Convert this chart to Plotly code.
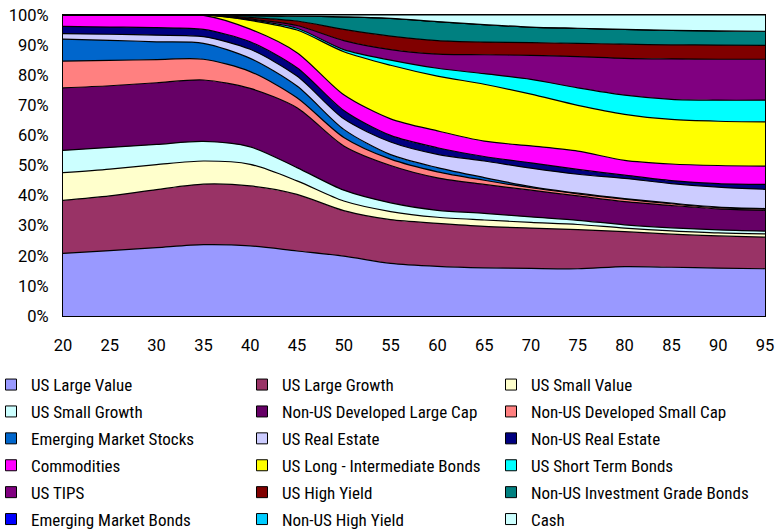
import plotly.graph_objects as go

ages = [20, 25, 30, 35, 40, 45, 50, 55, 60, 65, 70, 75, 80, 85, 90, 95]

us_large_value = [20.8, 21.7, 22.7, 23.7, 23.3, 21.6, 19.9, 17.5, 16.5, 16.0, 15.8, 15.7, 16.4, 16.2, 15.9, 15.7]
us_large_growth = [17.6, 18.2, 19.3, 20.1, 19.9, 18.8, 15.1, 14.5, 14.3, 13.8, 13.4, 13.0, 11.6, 11.0, 10.7, 10.5]
us_small_value = [9.2, 8.9, 8.3, 7.7, 7.2, 4.5, 3.2, 2.7, 2.0, 2.1, 1.9, 1.7, 1.2, 1.1, 1.0, 1.1]
us_small_growth = [7.4, 7.2, 6.7, 6.5, 5.8, 4.4, 3.6, 2.9, 2.3, 2.2, 1.8, 1.4, 1.1, 1.0, 1.0, 0.9]
nonus_dev_large = [20.8, 20.5, 20.5, 20.4, 19.4, 19.9, 14.7, 12.4, 10.8, 9.6, 8.9, 8.1, 7.7, 7.4, 7.0, 6.9]
nonus_dev_small = [8.9, 8.4, 7.7, 6.9, 5.6, 3.3, 2.8, 2.1, 2.0, 1.4, 0.8, 0.7, 0.8, 0.6, 0.4, 0.4]
em_stocks = [7.3, 6.7, 5.9, 5.3, 4.4, 3.9, 2.7, 1.5, 1.4, 0.9, 0.4, 0.2, 0.2, 0.2, 0.2, 0.2]
us_real_estate = [1.8, 2.0, 2.2, 2.2, 3.0, 3.3, 3.5, 4.2, 4.4, 5.5, 6.1, 6.3, 6.7, 6.5, 6.6, 6.4]
nonus_real_estate = [2.4, 2.4, 2.5, 2.4, 2.5, 2.8, 2.8, 2.2, 2.2, 1.5, 1.8, 1.6, 1.1, 1.0, 1.2, 1.6]
commodities = [3.8, 4.0, 4.2, 4.7, 4.2, 5.0, 5.2, 5.5, 5.6, 5.1, 5.6, 6.1, 4.9, 5.5, 6.0, 6.1]
us_long_int_bonds = [0, 0, 0, 0.1, 2.9, 7.5, 14.3, 17.8, 18.2, 18.9, 17.2, 15.2, 15.3, 14.8, 14.7, 14.7]
us_short_bonds = [0, 0, 0, 0, 0.2, 0.6, 0.7, 1.7, 2.6, 3.5, 4.9, 5.8, 6.4, 6.7, 7.0, 7.2]
us_tips = [0, 0, 0, 0, 0.3, 0.9, 3.0, 3.5, 4.7, 6.3, 8.0, 10.4, 12.2, 13.4, 13.6, 13.6]
us_high_yield = [0, 0, 0, 0, 0.5, 1.5, 3.7, 4.5, 4.5, 4.2, 4.2, 4.4, 4.7, 4.7, 4.7, 4.6]
nonus_ig_bonds = [0, 0, 0, 0, 0.6, 1.6, 4.2, 5.9, 6.3, 5.8, 5.2, 5.0, 4.9, 4.8, 4.7, 4.7]
em_bonds = [0] * 16
nonus_high_yield = [0] * 16
cash = [0, 0, 0, 0, 0.2, 0.4, 0.6, 1.1, 2.2, 3.2, 4.0, 4.4, 4.8, 5.1, 5.3, 5.4]

series = [
    ("US Large Value", us_large_value, "#9999FF"),
    ("US Large Growth", us_large_growth, "#993366"),
    ("US Small Value", us_small_value, "#FFFFCC"),
    ("US Small Growth", us_small_growth, "#CCFFFF"),
    ("Non-US Developed Large Cap", nonus_dev_large, "#660066"),
    ("Non-US Developed Small Cap", nonus_dev_small, "#FF8080"),
    ("Emerging Market Stocks", em_stocks, "#0066CC"),
    ("US Real Estate", us_real_estate, "#CCCCFF"),
    ("Non-US Real Estate", nonus_real_estate, "#000080"),
    ("Commodities", commodities, "#FF00FF"),
    ("US Long - Intermediate Bonds", us_long_int_bonds, "#FFFF00"),
    ("US Short Term Bonds", us_short_bonds, "#00FFFF"),
    ("US TIPS", us_tips, "#800080"),
    ("US High Yield", us_high_yield, "#800000"),
    ("Non-US Investment Grade Bonds", nonus_ig_bonds, "#008080"),
    ("Emerging Market Bonds", em_bonds, "#0000FF"),
    ("Non-US High Yield", nonus_high_yield, "#00CCFF"),
    ("Cash", cash, "#CCFFFF"),
]

LEG_FONT = "Noto Sans ExtraCondensed, Noto Sans Condensed, Roboto Condensed, DejaVu Sans Condensed, sans-serif"
TICK_FONT = "Roboto, DejaVu Sans Condensed, sans-serif"

fig = go.Figure()
for name, vals, col in series:
    fig.add_trace(go.Scatter(
        x=ages, y=vals, name=name, stackgroup="one", mode="lines",
        line=dict(color="black", width=1.2, shape="spline", smoothing=0.8),
        fillcolor=col, showlegend=False, legendgroup=name,
    ))

# legend-only square markers (placed outside the axis range, so clipped)
legend_names = ["legend", "legend2", "legend3"]
for i, (name, vals, col) in enumerate(series):
    fig.add_trace(go.Scatter(
        x=[0], y=[-50], name=name, mode="markers",
        marker=dict(symbol="square", size=11, color=col, line=dict(color="black", width=1)),
        legendgroup=name, showlegend=True, legend=legend_names[i % 3],
        hoverinfo="skip",
    ))

# plot area: x 63..765 px, y 15..316 px
col_px = [-9, 242, 491]
top_px = 367
for ln, cx in zip(legend_names, col_px):
    fig.update_layout({ln: dict(
        x=(cx - 63) / 702, y=(316 - top_px) / 301, xref="paper", yref="paper",
        xanchor="left", yanchor="top", orientation="v",
        font=dict(family=LEG_FONT, size=17, color="black"),
        tracegroupgap=1.8, bgcolor="rgba(0,0,0,0)", itemwidth=30,
    )})

fig.update_layout(
    width=778, height=531,
    margin=dict(l=63, r=13, t=15, b=215, autoexpand=False),
    plot_bgcolor="white", paper_bgcolor="white",
    font=dict(family=TICK_FONT, size=16.5, color="black"),
    xaxis=dict(range=[20, 95], tickvals=ages, showgrid=False, zeroline=False,
               showline=True, linecolor="black", linewidth=1, mirror=True,
               ticks="outside", ticklen=14, tickcolor="rgba(0,0,0,0)",
               ticklabeloverflow="allow", tickfont=dict(family=TICK_FONT, size=16.5)),
    yaxis=dict(range=[0, 100], dtick=10, ticksuffix="%", showgrid=False, zeroline=False,
               showline=True, linecolor="black", linewidth=1, mirror=True,
               ticks="outside", ticklen=10, tickcolor="rgba(0,0,0,0)",
               ticklabeloverflow="allow", tickfont=dict(family=TICK_FONT, size=16.5)),
)

# remove the browser's default 8px body margin so the figure fills the window
fig.write_html("out.html", config={"displayModeBar": False},
               post_script="document.body.style.margin='0px';")
